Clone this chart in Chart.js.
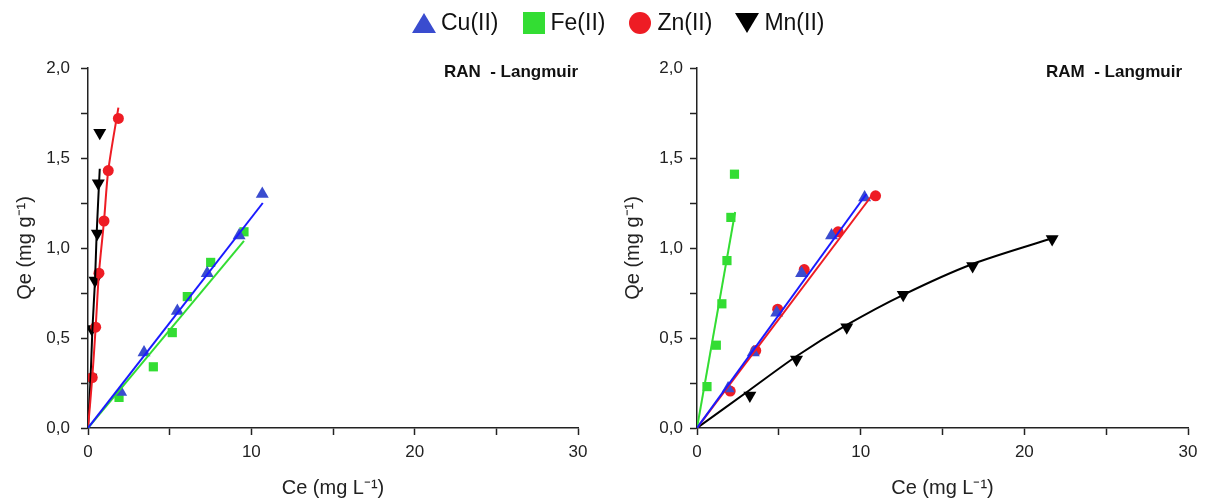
<!DOCTYPE html>
<html>
<head>
<meta charset="utf-8">
<script src="https://cdn.jsdelivr.net/npm/chart.js@4.4.1/dist/chart.umd.min.js"></script>
<style>
   body { margin: 0; background: #fff; width: 1211px; height: 504px; overflow: hidden; position: relative; font-family: "Liberation Sans", Arial, sans-serif; }
   canvas { position: absolute; top: 0; }
   #left { left: 0; }
   #right { left: 605px; }
   .legend { position: absolute; top: 9px; left: 411px; display: flex; align-items: center; font-size: 23px; color: #111; z-index: 2; }
   .legend span { display: inline-flex; align-items: center; margin-right: 22px; }
   .legend svg { margin-right: 4px; }
</style>
</head>
<body>
<div class="legend">
   <span><svg width="26" height="24"><polygon points="13,2 25,22 1,22" fill="#3a4ccf"/></svg>Cu(II)</span>
   <span><svg width="26" height="24"><rect x="2" y="1" width="22" height="22" fill="#33dd33"/></svg>Fe(II)</span>
   <span><svg width="26" height="24"><circle cx="13" cy="12" r="11" fill="#ee1c24"/></svg>Zn(II)</span>
   <span><svg width="26" height="24"><polygon points="1,2 25,2 13,22" fill="#000"/></svg>Mn(II)</span>
</div>
<canvas id="left" width="600" height="504"></canvas>
<canvas id="right" width="606" height="504"></canvas>
<script>
// ---- RAN (left) measured points
const ranCuCe = [2.0, 3.43, 5.47, 7.3, 9.25, 10.67];
const ranCuQe = [0.20, 0.42, 0.65, 0.86, 1.07, 1.30];
const ranFeCe = [1.9, 4.0, 5.16, 6.08, 7.51, 9.55];
const ranFeQe = [0.17, 0.34, 0.53, 0.73, 0.92, 1.09];
const ranZnCe = [0.26, 0.47, 0.67, 0.98, 1.24, 1.86];
const ranZnQe = [0.28, 0.56, 0.86, 1.15, 1.43, 1.72];
const ranMnCe = [0.17, 0.23, 0.43, 0.57, 0.63, 0.72];
const ranMnQe = [0.28, 0.55, 0.82, 1.08, 1.36, 1.64];

// ---- RAN fitted lines
const ranCuFitCe = [0, 10.7];
const ranCuFitQe = [0, 1.25];
const ranFeFitCe = [0, 9.55];
const ranFeFitQe = [0, 1.04];
const ranZnFitCe = [0, 0.26, 0.47, 0.67, 0.98, 1.24, 1.86];
const ranZnFitQe = [0, 0.28, 0.56, 0.86, 1.15, 1.43, 1.78];
const ranMnFitCe = [0, 0.16, 0.27, 0.43, 0.53, 0.72];
const ranMnFitQe = [0, 0.28, 0.55, 0.82, 1.08, 1.44];

// ---- RAM (right) measured points
const ramCuCe = [1.9, 3.44, 4.87, 6.39, 8.22, 10.24];
const ramCuQe = [0.22, 0.42, 0.64, 0.86, 1.07, 1.28];
const ramFeCe = [0.61, 1.18, 1.52, 1.83, 2.07, 2.29];
const ramFeQe = [0.23, 0.46, 0.69, 0.93, 1.17, 1.41];
const ramZnCe = [2.03, 3.59, 4.93, 6.55, 8.62, 10.91];
const ramZnQe = [0.205, 0.43, 0.66, 0.88, 1.09, 1.29];
const ramMnCe = [3.23, 6.08, 9.15, 12.6, 16.84, 21.7];
const ramMnQe = [0.18, 0.38, 0.56, 0.74, 0.90, 1.05];

// ---- RAM fitted lines
const ramCuFitCe = [0, 10.35];
const ramCuFitQe = [0, 1.30];
const ramFeFitCe = [0, 2.33];
const ramFeFitQe = [0, 1.20];
const ramZnFitCe = [0, 10.75];
const ramZnFitQe = [0, 1.30];
const ramMnFitCe = [0, 3.2, 6.1, 9.1, 12.6, 16.8, 21.9];
const ramMnFitQe = [0, 0.21, 0.40, 0.57, 0.74, 0.91, 1.06];

const xTicks = [0, 10, 20, 30];
const yTicks = [0, 0.5, 1.0, 1.5, 2.0];

const colors = {
   cu: { mark: '#3a4ccf', line: '#1a1aff' },
   fe: { mark: '#33dd33', line: '#33dd33' },
   zn: { mark: '#ee1c24', line: '#ee1c24' },
   mn: { mark: '#000000', line: '#000000' }
};

const pts = (xs, ys) => xs.map((x, i) => ({ x: x, y: ys[i] }));

function markSet(label, xs, ys, c, style, radius, rot) {
   return {
      type: 'scatter', label: label, data: pts(xs, ys),
      pointStyle: style, pointRadius: radius, pointRotation: rot || 0,
      backgroundColor: c.mark, borderColor: c.mark, borderWidth: 0, order: 2
   };
}

function fitSet(xs, ys, c, tension) {
   return {
      type: 'line', data: pts(xs, ys), showLine: true, pointRadius: 0,
      borderColor: c.line, borderWidth: 2, tension: tension || 0, fill: false, order: 1
   };
}

const comma = v => v.toFixed(1).replace('.', ',');

// Panel tag ("RAN - Langmuir") in upper right corner
const tagPlugin = {
   id: 'tag',
   afterDraw(chart, args, opts) {
      const ctx = chart.ctx, a = chart.chartArea;
      ctx.save();
      ctx.font = 'bold 17px "Liberation Sans", Arial, sans-serif';
      ctx.fillStyle = '#111';
      ctx.textAlign = 'right';
      ctx.textBaseline = 'middle';
      ctx.fillText(opts.text, a.right - opts.dx, a.top + 4);
      ctx.restore();
   }
};

function makeChart(id, datasets, tag, yWidth, rightPad, yTitlePad, yTickPad, tagDx) {
   return new Chart(document.getElementById(id).getContext('2d'), {
      data: { datasets: datasets },
      plugins: [tagPlugin],
      options: {
         responsive: false,
         animation: false,
         devicePixelRatio: 1,
         layout: { padding: { top: 68, right: rightPad, left: 0, bottom: 0 } },
         plugins: {
            legend: { display: false },
            tooltip: { enabled: false },
            tag: { text: tag, dx: tagDx }
         },
         scales: {
            x: {
               type: 'linear', min: 0, max: 30,
               afterFit: s => { s.height = 76; },
               ticks: {
                  stepSize: 5, color: '#222', padding: 7,
                  font: { family: '"Liberation Sans", Arial, sans-serif', size: 17 },
                  callback: v => xTicks.includes(v) ? String(v) : ''
               },
               grid: { drawOnChartArea: false, drawTicks: true, tickLength: 7, tickColor: '#222', tickWidth: 1.5 },
               border: { display: true, color: '#222', width: 1.5 },
               title: {
                  display: true, text: 'Ce (mg L\u207B\u00B9)', color: '#222',
                  font: { family: '"Liberation Sans", Arial, sans-serif', size: 20 },
                  padding: { top: 0, bottom: 4 }
               }
            },
            y: {
               type: 'linear', min: 0, max: 2,
               afterFit: s => { s.width = yWidth; },
               ticks: {
                  stepSize: 0.25, color: '#222', padding: yTickPad,
                  font: { family: '"Liberation Sans", Arial, sans-serif', size: 17 },
                  callback: v => yTicks.some(t => Math.abs(t - v) < 1e-6) ? comma(v) : ''
               },
               grid: { drawOnChartArea: false, drawTicks: true, tickLength: 7, tickColor: '#222', tickWidth: 1.5 },
               border: { display: true, color: '#222', width: 1.5 },
               title: {
                  display: true, text: 'Qe (mg g\u207B\u00B9)', color: '#222',
                  font: { family: '"Liberation Sans", Arial, sans-serif', size: 20 },
                  padding: { top: yTitlePad, bottom: 0 }
               }
            }
         }
      }
   });
}

makeChart('left', [
   fitSet(ranCuFitCe, ranCuFitQe, colors.cu),
   fitSet(ranFeFitCe, ranFeFitQe, colors.fe),
   fitSet(ranZnFitCe, ranZnFitQe, colors.zn, 0.3),
   fitSet(ranMnFitCe, ranMnFitQe, colors.mn, 0.3),
   markSet('Cu(II)', ranCuCe, ranCuQe, colors.cu, 'triangle', 7.5),
   markSet('Fe(II)', ranFeCe, ranFeQe, colors.fe, 'rect', 6.5),
   markSet('Zn(II)', ranZnCe, ranZnQe, colors.zn, 'circle', 5.5),
   markSet('Mn(II)', ranMnCe, ranMnQe, colors.mn, 'triangle', 7.5, 180)
], 'RAN  - Langmuir', 88, 22, 13, 11, 0);

makeChart('right', [
   fitSet(ramCuFitCe, ramCuFitQe, colors.cu),
   fitSet(ramFeFitCe, ramFeFitQe, colors.fe),
   fitSet(ramZnFitCe, ramZnFitQe, colors.zn),
   fitSet(ramMnFitCe, ramMnFitQe, colors.mn, 0.3),
   markSet('Cu(II)', ramCuCe, ramCuQe, colors.cu, 'triangle', 7.5),
   markSet('Fe(II)', ramFeCe, ramFeQe, colors.fe, 'rect', 6.5),
   markSet('Zn(II)', ramZnCe, ramZnQe, colors.zn, 'circle', 5.5),
   markSet('Mn(II)', ramMnCe, ramMnQe, colors.mn, 'triangle', 7.5, 180)
], 'RAM  - Langmuir', 92, 23, 16, 7, 6);
</script>
</body>
</html>
